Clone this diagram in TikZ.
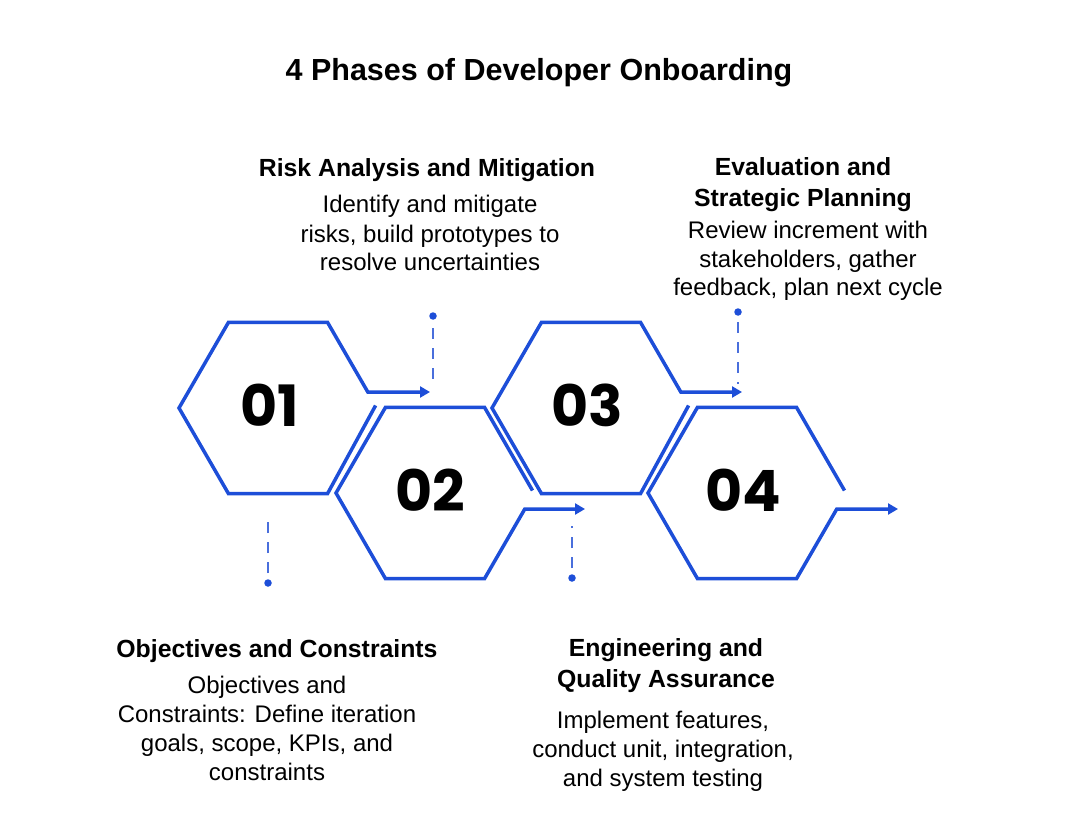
\documentclass[tikz,border=0pt]{standalone}
\usepackage{fontspec}
\setmainfont{Liberation Sans}
\newfontfamily\numfont{Poppins}
\usetikzlibrary{arrows.meta}
\definecolor{hexblue}{HTML}{1D4ED8}
\definecolor{dashblue}{HTML}{4A6FDC}
\newcommand\mlines[1]{\begin{tabular}[t]{@{}c@{}}#1\end{tabular}}
\tikzset{
 hexline/.style={draw=hexblue, line width=3.5pt, line join=miter},
 dashline/.style={draw=dashblue, line width=1.8pt, dash pattern=on 11pt off 9pt},
 dot/.style={circle, fill=hexblue, inner sep=0pt, minimum size=7.5pt},
 num/.style={font=\numfont\bfseries\fontsize{57}{57}\selectfont, inner sep=0pt},
 head/.style={font=\bfseries\fontsize{24.8}{31}\selectfont, inner sep=0pt, anchor=base},
 body/.style={font=\fontsize{24}{29}\selectfont, inner sep=0pt, anchor=base},
 titlefont/.style={font=\bfseries\fontsize{30.5}{36}\selectfont, inner sep=0pt, anchor=base},
 tip/.style={{Triangle[length=10pt,width=11pt]}-}
}
\begin{document}
\begin{tikzpicture}[x=1pt,y=-1pt]
\useasboundingbox[fill=white] (0,0) rectangle (1080,840);

\node[titlefont] (title) at (539,81) {4 Phases of Developer Onboarding};

% arrow ends
\coordinate (a1s) at (367.8,392); \coordinate (a1e) at (430,392);
\coordinate (a2s) at (524.8,509); \coordinate (a2e) at (585,509);
\coordinate (a3s) at (680.8,392); \coordinate (a3e) at (742,392);
\coordinate (a4s) at (836.8,509); \coordinate (a4e) at (898,509);

% hexagons
\draw[hexline, tip] (a1e) -- (a1s) -- (327.5,322.3) -- (228.5,322.3) -- (179,408) -- (228.5,493.7) -- (327.5,493.7) -- (375.6,405.5);
\draw[hexline, tip] (a2e) -- (a2s) -- (484.5,578.7) -- (385.5,578.7) -- (336,493) -- (385.5,407.3) -- (484.5,407.3) -- (532.5,490.5);
\draw[hexline, tip] (a3e) -- (a3s) -- (640.5,322.3) -- (541.5,322.3) -- (492,408) -- (541.5,493.7) -- (640.5,493.7) -- (688.6,405.5);
\draw[hexline, tip] (a4e) -- (a4s) -- (796.5,578.7) -- (697.5,578.7) -- (648,493) -- (697.5,407.3) -- (796.5,407.3) -- (844.5,490.5);

% numbers
\node[num] (n1) at (270,405) {01};
\node[num] (n2) at (430,490) {02};
\node[num] (n3) at (587,405) {03};
\node[num] (n4) at (743,490) {04};

% dotted leaders
\node[dot] (d1) at (433,316) {}; \coordinate (d1e) at (433,386);
\draw[dashline, shorten <=12pt] (d1.center) -- (d1e);
\node[dot] (d2) at (268,583) {}; \coordinate (d2e) at (268,513);
\draw[dashline, shorten <=10pt] (d2.center) -- (d2e);
\node[dot] (d3) at (572,578) {}; \coordinate (d3e) at (572,526);
\draw[dashline, shorten <=10pt] (d3.center) -- (d3e);
\node[dot] (d4) at (738,312) {}; \coordinate (d4e) at (738,384);
\draw[dashline, shorten <=10pt] (d4.center) -- (d4e);

% texts
\node[head] (h2) at (427,177) {Risk Analysis and Mitigation};
\node[body] (b2) at (430,213) {\mlines{Identify and mitigate\\risks, build prototypes to\\resolve uncertainties}};
\node[head] (h4) at (803,176) {\mlines{Evaluation and\\Strategic Planning}};
\node[body] (b4) at (808,238) {\mlines{Review increment with\\stakeholders, gather\\feedback, plan next cycle}};
\node[head] (h1) at (277,657) {Objectives and Constraints};
\node[body] (b1) at (267,693) {\mlines{Objectives and\\Constraints: Define iteration\\goals, scope, KPIs, and\\constraints}};
\node[head] (h3) at (666,656) {\mlines{Engineering and\\Quality Assurance}};
\node[body] (b3) at (663,728) {\mlines{Implement features,\\conduct unit, integration,\\and system testing}};
\end{tikzpicture}
\end{document}
